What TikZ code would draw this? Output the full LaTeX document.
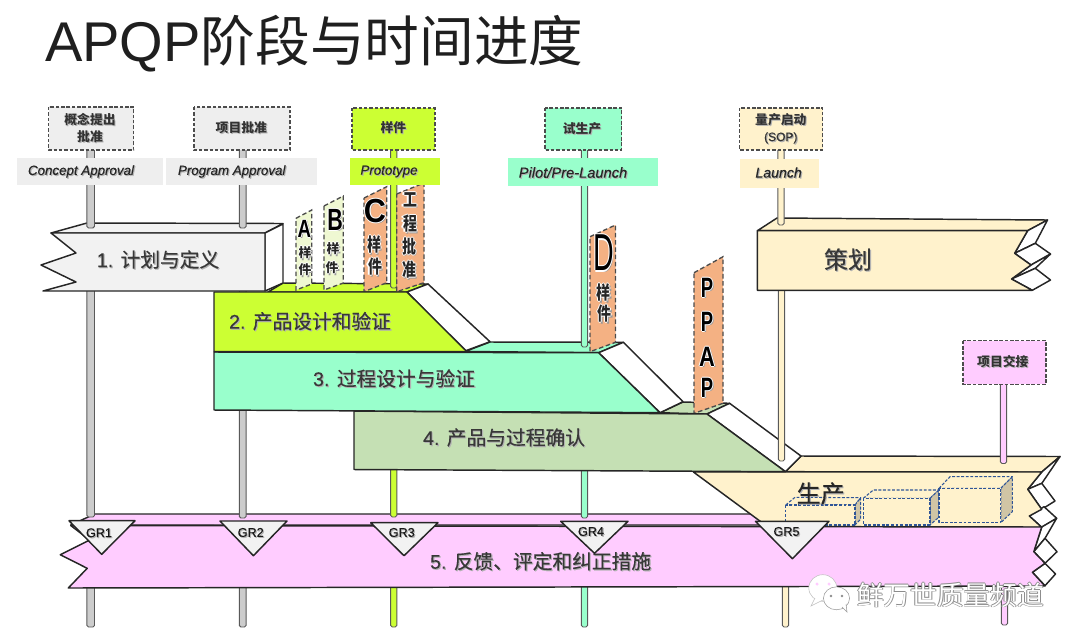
\documentclass[tikz,border=0pt]{standalone}
\usepackage{fontspec}
\setmainfont{Liberation Sans}
\newfontfamily\cjk{Noto Sans CJK SC}
\newfontfamily\cjkmid[FakeBold=0.3]{Noto Sans CJK SC}
\newfontfamily\latinmid[FakeBold=0.25]{Liberation Sans}
\usetikzlibrary{positioning}

% soft shadow behind a label
\newcommand{\soft}[1]{\leavevmode\rlap{\hspace{0.8pt}\raisebox{-0.8pt}{\textcolor{black!30}{#1}}}#1}
% white halo for the letters on the flags
\newcommand{\halo}[1]{\leavevmode\rlap{\hspace{1.1pt}\raisebox{-1.1pt}{\textcolor{black!40}{#1}}}\rlap{\hspace{-0.8pt}\textcolor{white}{#1}}\rlap{\hspace{0.8pt}\textcolor{white}{#1}}\rlap{\raisebox{0.8pt}{\textcolor{white}{#1}}}\rlap{\raisebox{-0.8pt}{\textcolor{white}{#1}}}#1}
% outlined white text for the channel mark
\newcommand{\hollow}[1]{\leavevmode\rlap{\hspace{0.6pt}\textcolor{black!45}{#1}}\rlap{\hspace{-0.6pt}\textcolor{black!45}{#1}}\rlap{\raisebox{0.6pt}{\textcolor{black!45}{#1}}}\rlap{\raisebox{-0.6pt}{\textcolor{black!45}{#1}}}\textcolor{white}{#1}}
% one piece of a gate pole: x, half width, top, bottom, colour
\newcommand{\polepart}[5]{\draw[polestyle, fill=#5] (#1-#2,#3) rectangle (#1+#2,#4);}
% tall characters on the flags
\newcommand{\tallcjk}[1]{\scalebox{0.95}[1.25]{#1}}

\definecolor{limeC}{HTML}{CCFF33}
\definecolor{mintC}{HTML}{99FFCC}
\definecolor{creamC}{HTML}{FFF2CC}
\definecolor{sageC}{HTML}{C5E0B4}
\definecolor{pinkC}{HTML}{FFCCFF}
\definecolor{greyC}{HTML}{F2F2F2}
\definecolor{stripC}{HTML}{EEEEEE}
\definecolor{poleC}{HTML}{CCCCCC}
\definecolor{orangeC}{HTML}{F4B183}
\definecolor{paleC}{HTML}{EFF8D2}
\definecolor{edgeC}{HTML}{262626}
\definecolor{blueC}{HTML}{2F5597}
\definecolor{sideC}{HTML}{D0C5A5}

\tikzset{
  face/.style={draw=edgeC, line width=1.1pt, line join=round},
  polestyle/.style={draw=black!65, line width=0.7pt, rounded corners=1.2pt},
  gatebox/.style={draw=black!70, line width=0.8pt, dashed, dash pattern=on 2.6pt off 1.4pt},
  flagbox/.style={draw=black!70, line width=1pt, dash pattern=on 3.4pt off 2pt},
  cratebox/.style={draw=blueC, line width=0.8pt, dash pattern=on 2.2pt off 1.2pt, line join=round},
  gatetext/.style={font=\fontsize{9.6pt}{12.4pt}\selectfont\bfseries\cjk, text=black!80, align=center, inner sep=0pt},
  striptext/.style={font=\fontsize{10pt}{12pt}\selectfont\latinmid\itshape, text=black!85, inner sep=0pt},
  phasetext/.style={font=\fontsize{14.8pt}{16pt}\selectfont\latinmid, text=black!78, inner sep=0pt},
  grtext/.style={font=\fontsize{9.5pt}{11pt}\selectfont\latinmid, text=black!90, inner sep=0pt},
  flagletter/.style={font=\fontsize{16pt}{18pt}\selectfont\bfseries, text=black, inner sep=0pt},
  flagcjk/.style={font=\fontsize{9.6pt}{12pt}\selectfont\bfseries\cjk, text=black!85, inner sep=0pt},
  flagbig/.style={font=\fontsize{11pt}{14pt}\selectfont\bfseries\cjk, text=black!85, inner sep=0pt},
}

\begin{document}
\begin{tikzpicture}[x=0.75pt, y=-0.75pt]
\useasboundingbox (0,0) rectangle (1080,643);

%--------------------
% Title
%--------------------
\node[anchor=west, inner sep=0pt, text=black!88, font=\fontsize{41pt}{44pt}\selectfont] (mainTitle) at (45,44)
  {\fontsize{42pt}{44pt}\selectfont APQP{\fontsize{41pt}{44pt}\selectfont\cjk 阶段与时间进度}};

%--------------------
% Top and side faces of the phases
%--------------------
% 5
\draw[face, fill=pinkC] (70.7,525) -- (94.8,514) -- (790,514) -- (770,525) -- cycle;
% production
\draw[face, fill=creamC] (785.5,471.7) -- (801,456) -- (1060,456.5) -- (1041.7,472) -- cycle;
\draw[face, fill=white] (1041.7,472) -- (1060,456.5) -- (1041.7,483.5) -- (1027.7,489.3) -- cycle;
\draw[face, fill=white] (1027.7,489.3) -- (1041.7,483.3) -- (1055,501) -- (1041.7,509.3) -- cycle;
\draw[face, fill=white] (1029.3,516) -- (1044,506.7) -- (1056.7,518.3) -- (1041.7,527.3) -- cycle;
% 4
\draw[face, fill=sageC] (660,412.7) -- (683,402) -- (729.6,403.3) -- (707,414) -- cycle;
\draw[face, fill=white] (707,414) -- (729.6,403.3) -- (801,456) -- (785.5,471.7) -- cycle;
% 3
\draw[face, fill=mintC] (465,351.5) -- (490,342) -- (623.4,342.3) -- (598.6,352.7) -- cycle;
\draw[face, fill=white] (598.6,352.7) -- (623.4,342.3) -- (683,401.7) -- (660,412.7) -- cycle;
% 2
\draw[face, fill=limeC] (268,292) -- (283,283) -- (428,284) -- (407,292) -- cycle;
\draw[face, fill=white] (407,292) -- (428,284) -- (490,341.7) -- (465,351) -- cycle;
% 1
\draw[face, fill=greyC] (51,233) -- (87,223) -- (283,223.5) -- (265,233) -- cycle;
\draw[face, fill=white] (265,233) -- (283,224) -- (283,283) -- (265,291) -- cycle;
% planning
\draw[face, fill=creamC] (757.4,230.7) -- (777,218) -- (1047.5,220) -- (1027.6,230.7) -- cycle;
\draw[face, fill=white] (1027.6,230.7) -- (1047.5,220) -- (1035.3,243.3) -- (1014.6,253.3) -- cycle;
\draw[face, fill=white] (1014.6,253.3) -- (1035.3,243.3) -- (1050.5,254) -- (1031,265) -- cycle;
\draw[face, fill=white] (1031,265) -- (1050.5,254) -- (1035.3,268.3) -- (1011.5,279) -- cycle;
\draw[face, fill=white] (1011.5,279) -- (1035.3,268.3) -- (1050.5,280) -- (1032.3,290.3) -- cycle;

%--------------------
% Gate poles
%--------------------
\polepart{90.7}{3.8}{148}{228}{poleC}
\polepart{90.7}{3.8}{285}{517}{poleC}
\polepart{90.7}{3.8}{584}{627}{poleC}
\polepart{242.7}{3.4}{148}{228}{poleC}
\polepart{242.7}{3.4}{285}{518}{poleC}
\polepart{242.7}{3.4}{584}{627}{poleC}
\polepart{393.7}{3.1}{148}{288}{limeC}
\polepart{393.7}{3.1}{465}{517}{limeC}
\polepart{393.7}{3.1}{584}{627}{limeC}
\polepart{584.5}{3.1}{148}{347}{mintC}
\polepart{584.5}{3.1}{468}{518}{mintC}
\polepart{584.5}{3.1}{584}{627}{mintC}
\polepart{781}{3.1}{148}{225}{creamC}
\polepart{781.5}{3.1}{285}{461}{creamC}
\polepart{785.5}{3.1}{584}{627}{creamC}
\polepart{1003.5}{3.1}{382}{463.5}{pinkC}
\polepart{1004.5}{3.1}{584}{625}{pinkC}

%--------------------
% Flags standing on the phases
%--------------------
\draw[flagbox, fill=paleC] (296,218.3) -- (311.7,210) -- (311.7,284) -- (296,290) -- cycle;
\draw[flagbox, fill=paleC] (324,206) -- (343.3,196) -- (343.3,283) -- (324,290) -- cycle;
\draw[flagbox, fill=orangeC] (364,198) -- (386.7,186.7) -- (386.7,282.7) -- (364,291.7) -- cycle;
\draw[flagbox, fill=orangeC] (396.7,194) -- (424,183) -- (424,282.7) -- (396.7,291.7) -- cycle;
\draw[flagbox, fill=orangeC] (590,236.7) -- (615.5,225) -- (615.5,342.3) -- (590,351.7) -- cycle;
\draw[flagbox, fill=orangeC] (694,272.7) -- (723,256.7) -- (723,403.3) -- (694,413.3) -- cycle;

\node[flagletter, font=\fontsize{18.7pt}{20pt}\selectfont\bfseries] (flagA) at (304.3,229) {\halo{\scalebox{0.75}[1]{A}}};
\node[flagcjk] (flagAone) at (305,253) {\halo{样}};
\node[flagcjk] (flagAtwo) at (305,270) {\halo{件}};
\node[flagletter, font=\fontsize{23pt}{25pt}\selectfont\bfseries] (flagB) at (335,220) {\halo{\scalebox{0.7}[1]{B}}};
\node[flagcjk] (flagBone) at (333,249) {\halo{样}};
\node[flagcjk] (flagBtwo) at (332,268) {\halo{件}};
\node[flagletter, font=\fontsize{25pt}{27pt}\selectfont\bfseries] (flagC) at (375,211) {\halo{\scalebox{0.92}[1]{C}}};
\node[flagbig] (flagCone) at (374.3,245) {\halo{\tallcjk{样}}};
\node[flagbig] (flagCtwo) at (375,267) {\halo{\tallcjk{件}}};
\node[flagbig] (flagEone) at (410,200) {\halo{\tallcjk{工}}};
\node[flagbig] (flagEtwo) at (410,224) {\halo{\tallcjk{程}}};
\node[flagbig] (flagEthree) at (409.3,246.7) {\halo{\tallcjk{批}}};
\node[flagbig] (flagEfour) at (409.3,270) {\halo{\tallcjk{准}}};
\node[flagletter, font=\fontsize{39pt}{41pt}\selectfont] (flagD) at (603.8,253.3) {\halo{\scalebox{0.55}[1]{D}}};
\node[flagbig] (flagDone) at (603.8,293) {\halo{\tallcjk{样}}};
\node[flagbig] (flagDtwo) at (604.7,314) {\halo{\tallcjk{件}}};
\node[flagletter, font=\fontsize{21pt}{22pt}\selectfont\bfseries] (ppapOne) at (707,288) {\halo{\scalebox{0.66}[1]{P}}};
\node[flagletter, font=\fontsize{21pt}{22pt}\selectfont\bfseries] (ppapTwo) at (707,321.7) {\halo{\scalebox{0.66}[1]{P}}};
\node[flagletter, font=\fontsize{21pt}{22pt}\selectfont\bfseries] (ppapThree) at (707,356.7) {\halo{\scalebox{0.78}[1]{A}}};
\node[flagletter, font=\fontsize{21pt}{22pt}\selectfont\bfseries] (ppapFour) at (707,388) {\halo{\scalebox{0.66}[1]{P}}};

%--------------------
% Front faces, back to front
%--------------------
\draw[face, fill=creamC] (693.4,472) -- (1041.7,472) -- (1027.7,489.3) -- (1041.7,509.3) -- (1029.3,516) -- (1041.7,527.3) -- (768,527) -- cycle;

% crates
\draw[cratebox, fill=creamC] (785.7,505) -- (795,497.3) -- (860.7,497.7) -- (855,505) -- cycle;
\draw[cratebox, fill=sideC] (855,505) -- (860.7,497.7) -- (860.7,519) -- (855,525) -- cycle;
\draw[cratebox, fill=creamC] (785.7,505) rectangle (855,525);
\draw[cratebox, fill=creamC] (863.3,498.3) -- (873.3,490) -- (939,490) -- (930,498.3) -- cycle;
\draw[cratebox, fill=sideC] (930,498.3) -- (939,490) -- (939,517) -- (930,525) -- cycle;
\draw[cratebox, fill=creamC] (863.3,498.3) rectangle (930,525);
\draw[cratebox, fill=creamC] (939,488.3) -- (950,476.7) -- (1012.3,476.7) -- (1000.7,488.3) -- cycle;
\draw[cratebox, fill=sideC] (1000.7,488.3) -- (1012.3,476.7) -- (1012.3,511.7) -- (1000.7,522.7) -- cycle;
\draw[cratebox, fill=creamC] (939,488.3) rectangle (1000.7,522.7);
\node[font=\fontsize{18pt}{20pt}\selectfont\cjkmid, text=black!85, inner sep=0pt] (makeText) at (820.7,494) {\soft{生产}};

\draw[face, fill=sageC] (354,411) -- (707,414) -- (785.5,471.7) -- (354,469.5) -- cycle;
\draw[face, fill=mintC] (214,352) -- (598.6,352.7) -- (660,412.7) -- (214,410) -- cycle;
\draw[face, fill=limeC] (214,292) -- (407,292) -- (467,351.7) -- (214,351.7) -- cycle;
\draw[face, fill=greyC] (51,233) -- (265,233) -- (265,291) -- (43,291) -- (76,282) -- (41,265) -- (76,253) -- cycle;
\draw[face, fill=creamC] (757.4,230.7) -- (1027.6,230.7) -- (1014.6,253.3) -- (1031,265) -- (1011.5,279) -- (1032.3,290.3) -- (757.4,290.3) -- cycle;

% 5, with its folded end
\draw[face, fill=white] (1041.7,527) -- (1056.6,518.3) -- (1045,538.3) -- (1033.8,551.7) -- cycle;
\draw[face, fill=white] (1033.8,551.7) -- (1045,538.3) -- (1057,551.7) -- (1045,563.3) -- cycle;
\draw[face, fill=white] (1032.4,572.3) -- (1045,563.3) -- (1055.5,574) -- (1045,585.7) -- cycle;
\draw[face, fill=pinkC] (70.7,525.5) -- (1041.7,527) -- (1033.8,551.7) -- (1045,563.3) -- (1032.4,572.3) -- (1045,586) -- (68.3,588) -- (87.2,568.3) -- (60.3,554.7) -- (89.7,540) -- cycle;

%--------------------
% Phase names
%--------------------
\node[phasetext] (phaseOne) at (158,260) {\soft{1. {\cjkmid 计划与定义}}};
\node[phasetext] (phaseTwo) at (310,321.7) {\soft{2. {\cjkmid 产品设计和验证}}};
\node[phasetext] (phaseThree) at (394,379) {\soft{3. {\cjkmid 过程设计与验证}}};
\node[phasetext] (phaseFour) at (504,438) {\soft{4. {\cjkmid 产品与过程确认}}};
\node[phasetext] (phaseFive) at (540.6,561.7) {\soft{5. {\cjkmid 反馈、评定和纠正措施}}};
\node[phasetext, font=\fontsize{18pt}{20pt}\selectfont\cjkmid] (phasePlan) at (848,260) {\soft{策划}};

%--------------------
% Gate boxes and their strips
%--------------------
\draw[gatebox, fill=stripC] (48.5,107) rectangle (133.5,150);
\node[gatetext] (gateOne) at (90,128.5) {\soft{概念提出}\\\soft{批准}};
\draw[gatebox, fill=stripC] (194,107) rectangle (290,150);
\node[gatetext] (gateTwo) at (241.3,128) {\soft{项目批准}};
\draw[gatebox, fill=limeC] (352,108) rectangle (435,150);
\node[gatetext] (gateThree) at (393.3,128) {\soft{样件}};
\draw[gatebox, fill=mintC] (545,108) rectangle (621.6,150);
\node[gatetext] (gateFour) at (582,129) {\soft{试生产}};
\draw[gatebox, fill=creamC] (739.6,108) rectangle (822.9,150);
\node[gatetext] (gateFive) at (780.8,129) {\soft{量产启动}\\\soft{{\latinmid\mdseries\fontsize{9pt}{12.4pt}\selectfont (SOP)}}};
\draw[gatebox, fill=pinkC] (963,340.7) rectangle (1046,384.3);
\node[gatetext] (gateSix) at (1002.8,361.7) {\soft{项目交接}};

\fill[stripC] (17,158) rectangle (163,185);
\node[striptext] (stripOne) at (81,172) {\soft{Concept Approval}};
\fill[stripC] (166,158) rectangle (317,185);
\node[striptext] (stripTwo) at (231.7,172) {\soft{Program Approval}};
\fill[limeC] (350,158) rectangle (440,185);
\node[striptext] (stripThree) at (389,172) {\soft{Prototype}};
\fill[mintC] (508,158.3) rectangle (657.6,186);
\node[striptext, font=\fontsize{11pt}{12pt}\selectfont\latinmid\itshape] (stripFour) at (573,173) {\soft{Pilot/Pre-Launch}};
\fill[creamC] (740.4,158.5) rectangle (818.5,187.6);
\node[striptext, font=\fontsize{10.6pt}{12pt}\selectfont\latinmid\itshape] (stripFive) at (778.6,173) {\soft{Launch}};

%--------------------
% Gate reviews
%--------------------
\draw[face, fill=greyC] (69,520.7) -- (135,520.7) -- (101.7,554.3) -- cycle;
\node[grtext] (grOne) at (99,533.3) {\soft{GR1}};
\draw[face, fill=greyC] (220,521) -- (287,521) -- (253.4,555.7) -- cycle;
\node[grtext] (grTwo) at (250.7,533) {\soft{GR2}};
\draw[face, fill=greyC] (370.7,522.7) -- (438,522.7) -- (404,555.7) -- cycle;
\node[grtext] (grThree) at (401.7,533) {\soft{GR3}};
\draw[face, fill=greyC] (560.7,521.3) -- (628,521.3) -- (594.5,553.3) -- cycle;
\node[grtext] (grFour) at (591,532) {\soft{GR4}};
\draw[face, fill=greyC] (755.5,521.3) -- (829,521.3) -- (792.4,558.7) -- cycle;
\node[grtext] (grFive) at (786.5,532) {\soft{GR5}};

%--------------------
% Channel mark
%--------------------
\draw[black!25, fill=white] (822.8,588) ellipse [x radius=10.5pt, y radius=10pt];
\draw[black!25, fill=white] (815,598) -- (811,606) -- (823,600);
\draw[black!40, fill=white] (836.5,598.3) ellipse [x radius=9.8pt, y radius=8.6pt];
\draw[black!40, fill=white] (842,607) -- (847,612) -- (846,604);
\fill[pinkC] (817,584) circle (1.3pt) (829,584) circle (1.3pt);
\fill[black!45] (831,596) circle (1pt) (842,596) circle (1pt);
\node[anchor=west, inner sep=0pt, font=\fontsize{20pt}{22pt}\selectfont\cjk] (channelMark) at (857,595) {\hollow{鲜万世质量频道}};

\end{tikzpicture}
\end{document}
